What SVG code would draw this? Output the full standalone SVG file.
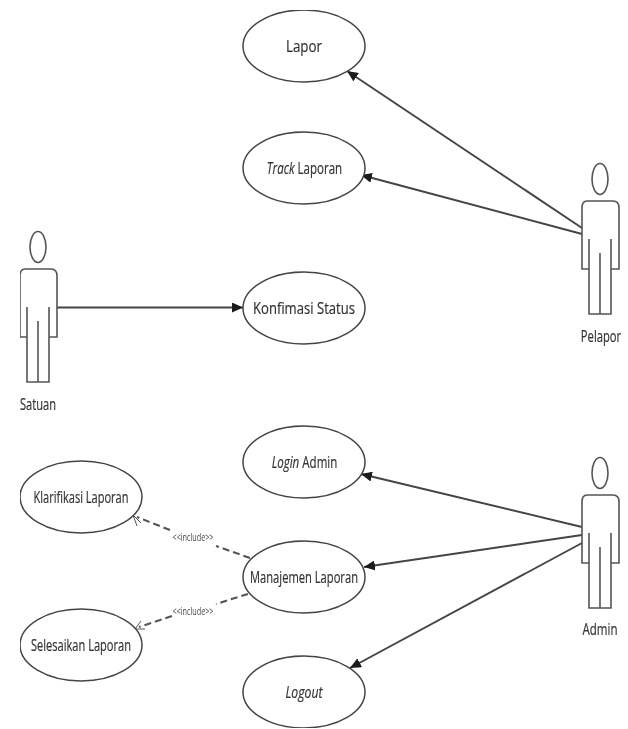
<svg xmlns="http://www.w3.org/2000/svg" width="628" height="729" viewBox="0 0 628 729">
<style>
.uc{fill:#fff;stroke:#444;stroke-width:1.5}
.actor{fill:none;stroke:#555;stroke-width:1.6}
.line{fill:none;stroke:#444;stroke-width:1.9}
.dash{fill:none;stroke:#555;stroke-width:2.1;stroke-dasharray:7 4}
.tip{fill:none;stroke:#555;stroke-width:1}
text{font-family:"Open Sans","Liberation Sans",sans-serif;font-size:17px;fill:#333;text-anchor:middle;stroke:#333;stroke-width:.2}
.small{font-size:10px;fill:#444;stroke:none}
</style>
<defs>
<marker id="solid" markerWidth="12" markerHeight="10" refX="11" refY="5" orient="auto" markerUnits="userSpaceOnUse"><path d="M0 0L11 5L0 10Z" fill="#1a1a1a"/></marker>
<filter id="soft" x="0" y="0" width="100%" height="100%"><feGaussianBlur stdDeviation="0.5"/></filter>
<g id="figure" class="actor"><ellipse cx="38" cy="247" rx="8" ry="15.5"/><path d="M27 337H20V276Q20 269 25 269H51Q57 269 57 276V337H49M27 307V382H49V307M38 321V382"/></g>
</defs>
<rect width="628" height="729" fill="#fff"/>
<g filter="url(#soft)">
<g id="connectors">
<path class="line" d="M582 228L347 71" marker-end="url(#solid)"/>
<path class="line" d="M582 234L361 175" marker-end="url(#solid)"/>
<path class="line" d="M57 307.500H243" marker-end="url(#solid)"/>
<path class="line" d="M582 527L361 474" marker-end="url(#solid)"/>
<path class="line" d="M582 535L364 567" marker-end="url(#solid)"/>
<path class="line" d="M582 543L350 668" marker-end="url(#solid)"/>
<path class="dash" d="M250 558L216 546M170 530L137 517"/>
<path class="tip" d="M141 523L133 515L137 526"/>
<path class="dash" d="M248 594L216 604M172 616L139 627"/>
<path class="tip" d="M141 621L135 629L145 629"/>
<text class="small" x="193" y="541" textLength="41" lengthAdjust="spacingAndGlyphs">&lt;&lt;include&gt;&gt;</text>
<text class="small" x="193" y="615" textLength="41" lengthAdjust="spacingAndGlyphs">&lt;&lt;include&gt;&gt;</text>
</g>
<g id="uc-lapor"><ellipse class="uc" cx="304" cy="46" rx="61" ry="36"/><text x="304" y="52" textLength="36" lengthAdjust="spacingAndGlyphs">Lapor</text></g>
<g id="uc-track"><ellipse class="uc" cx="304" cy="168" rx="61" ry="36"/><text transform="translate(304.500 174) scale(.68 1)"><tspan font-style="italic">Track</tspan> Laporan</text></g>
<g id="uc-konfirmasi"><ellipse class="uc" cx="304" cy="308" rx="61" ry="36"/><text x="304" y="314" textLength="102" lengthAdjust="spacingAndGlyphs">Konfimasi Status</text></g>
<g id="uc-login"><ellipse class="uc" cx="304" cy="462" rx="61" ry="36"/><text transform="translate(304.500 468) scale(.68 1)"><tspan font-style="italic">Login</tspan> Admin</text></g>
<g id="uc-manajemen"><ellipse class="uc" cx="304" cy="577" rx="61" ry="36"/><text x="304" y="583" textLength="108" lengthAdjust="spacingAndGlyphs">Manajemen Laporan</text></g>
<g id="uc-logout"><ellipse class="uc" cx="304" cy="692" rx="61" ry="36"/><text x="304" y="698" textLength="37" lengthAdjust="spacingAndGlyphs" font-style="italic">Logout</text></g>
<g id="uc-klarifikasi"><ellipse class="uc" cx="81" cy="497" rx="61" ry="36"/><text x="81" y="503" textLength="95" lengthAdjust="spacingAndGlyphs">Klarifikasi Laporan</text></g>
<g id="uc-selesaikan"><ellipse class="uc" cx="81" cy="645" rx="61" ry="36"/><text x="81" y="651" textLength="100" lengthAdjust="spacingAndGlyphs">Selesaikan Laporan</text></g>
<g id="actor-satuan"><use href="#figure"/><text x="38" y="410" textLength="36" lengthAdjust="spacingAndGlyphs">Satuan</text></g>
<g id="actor-pelapor"><use href="#figure" x="562" y="-68"/><text transform="translate(601 342) scale(.66 1)">Pelapor</text></g>
<g id="actor-admin"><use href="#figure" x="562" y="226"/><text transform="translate(600 635) scale(.68 1)">Admin</text></g>
</g>
</svg>
